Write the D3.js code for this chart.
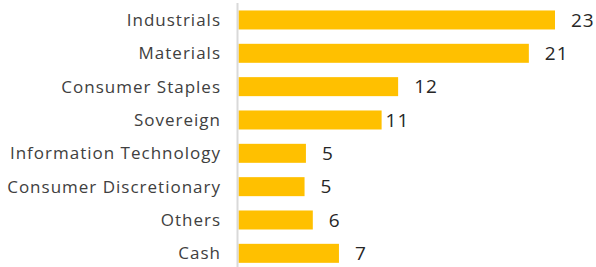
<!DOCTYPE html>
<head>
  <meta charset="utf-8">
  <script src="https://d3js.org/d3.v7.min.js"></script>
  <style>
    body { margin:0; background:#fff; }
  </style>
</head>
<body>
  <script>
// sector weights (%), labels as printed
const sectors = ["Industrials", "Materials", "Consumer Staples", "Sovereign",
                 "Information Technology", "Consumer Discretionary", "Others", "Cash"];
const weights = [23, 21.1, 11.6, 10.4, 4.9, 4.8, 5.4, 7.3];
const valueLabels = ["23", "21", "12", "11", "5", "5", "6", "7"];

const width = 596, height = 267,
    left = 238.5;

const svg = d3.select("body").append("svg")
    .attr("width", width)
    .attr("height", height)
    .style("font-family", "'Open Sans', sans-serif");

const x = d3.scaleLinear()
    .domain([0, 23])
    .range([left, 555]);

const y = d3.scaleBand()
    .domain(sectors)
    .range([3.3, 270])
    .paddingInner(0.43)
    .paddingOuter(0.215);

svg.selectAll("rect")
    .data(sectors)
    .enter()
    .append("rect")
    .attr("x", x(0))
    .attr("y", d => y(d))
    .attr("width", (d, i) => x(weights[i]) - x(0))
    .attr("height", y.bandwidth())
    .attr("fill", "#ffc000");

// vertical axis line
svg.append("line")
    .attr("x1", 237.5).attr("x2", 237.5)
    .attr("y1", 3).attr("y2", height)
    .attr("stroke", "#d9d9d9")
    .attr("stroke-width", 2);

svg.selectAll(".cat")
    .data(sectors)
    .enter()
    .append("text")
    .attr("class", "cat")
    .attr("x", 221)
    .attr("y", d => y(d) + y.bandwidth() / 2)
    .attr("dy", "0.36em")
    .attr("text-anchor", "end")
    .attr("fill", "#404040")
    .style("font-size", "17px")
    .style("letter-spacing", "1px")
    .text(d => d);

// value labels; the "11" sits tight to its bar in the original
svg.selectAll(".val")
    .data(sectors)
    .enter()
    .append("text")
    .attr("class", "val")
    .attr("x", (d, i) => x(weights[i]) + (valueLabels[i] === "11" ? 4 : 16))
    .attr("y", d => y(d) + y.bandwidth() / 2)
    .attr("dy", "0.36em")
    .attr("fill", "#262626")
    .style("font-size", "19px")
    .style("letter-spacing", "1px")
    .text((d, i) => valueLabels[i]);
  </script>
</body>
